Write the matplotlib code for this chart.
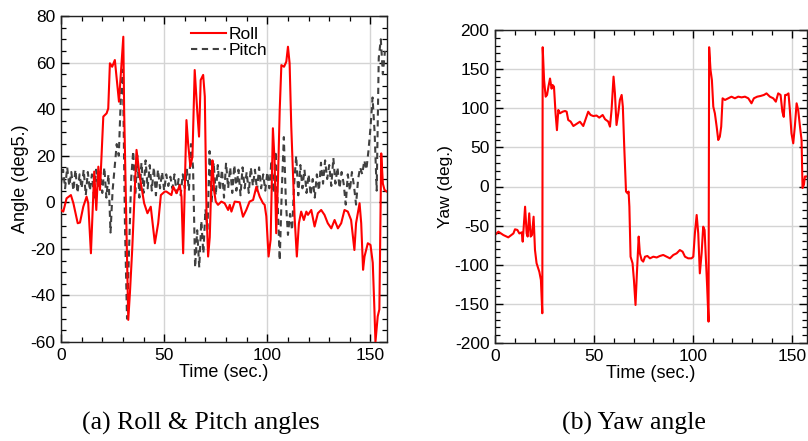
import matplotlib
matplotlib.use("Agg")
import matplotlib.pyplot as plt
from matplotlib.ticker import MultipleLocator

plt.rcParams['font.family'] = ['Liberation Sans', 'DejaVu Sans']
plt.rcParams['axes.unicode_minus'] = False

# roll angle (deg)
roll_t = [0, 1.1, 2.7, 4.8, 6.0, 8.1, 9.2, 10.8, 12.4, 13.2, 14.5, 16.1, 17.1, 18.1, 18.9,
          20.5, 22.1, 22.9, 23.7, 24.8, 26.1, 26.9, 28.1, 28.9, 30.2, 30.6, 32.6, 33.4, 34.5,
          35.5, 36.6, 38.2, 40.3, 41.9, 43.5, 45.5, 47.1, 48.4, 50.3, 51.1, 53.5, 54.4, 56.0,
          57.6, 58.4, 59.2, 60.8, 61.6, 62.7, 63.7, 64.8, 66.0, 66.9, 67.7, 68.9, 69.7, 70.5,
          71.3, 72.1, 72.9, 73.4, 74.2, 75.0, 76.1, 77.7, 79.3, 81.0, 81.8, 82.6, 84.2, 86.6,
          88.2, 89.8, 91.4, 93.1, 94.7, 96.3, 97.9, 98.7, 99.5, 100.6, 101.6, 102.7, 103.5,
          104.3, 105.2, 106.0, 106.8, 108.1, 109.2, 110.0, 110.8, 111.6, 113.2, 114.3, 115.3,
          116.4, 117.7, 118.9, 119.7, 121.3, 122.9, 124.5, 126.1, 127.7, 129.3, 131.0, 132.6,
          134.2, 135.8, 137.4, 139.0, 140.6, 142.2, 143.0, 144.7, 145.5, 146.4, 147.1, 148.7,
          150.0, 151.1, 151.9, 152.4, 153.5, 154.3, 155.2, 156.0, 156.8, 157.9]
roll_v = [-3.3, -4, 1.7, 3.1, -0.4, -9, -8.7, -1.9, 2.4, -0.4, -21.9, 13.2, -3.3, 15.3, 5.3,
          36.8, 38.2, 40.3, 59.7, 58.2, 61.1, 54, 43.2, 54, 71.1, 39.6, -50.5, -39, -20.5,
          -0.4, 22.5, 11, -0.4, -4.7, -1.9, -17.6, -9, 3.1, 4.6, 4.6, 3.1, 6.7, 3.9,
          7.4, 2.4, -21.9, 35.3, 25.3, 15.3, 19.6, 56.8, 39.6, 28.2, 52.5, 54.7, 45.4, -3.3,
          -23.3, -15, 10, 18, 5, 0.3, -1.1, 0.3, -0.4, -3.3, -1.1, -4, 0.3, 0,
          -6.2, -3.3, 0.3, 1, 6.7, 2.4, -0.4, -1.1, -6, -23.3, -16, 31.8, 18.2,
          -13.3, 11, 39.6, 58.9, 58.2, 60.4, 66.8, 59.7, 32.5, -6.2, -23.3, -9,
          -4, -7.6, -4, -5.4, -3.3, -10.4, -4.7, -3.3, -5.4, -9, -11.2, -7.6,
          -11.2, -9, -3.3, -4, -7.6, -20.5, -9, -0.4, -9, -29, -23.3, -17.6,
          -18.3, -26, -46, -60, -49, -46, 21, 8, 5.3, 4.6]

# pitch angle (deg), one reading per second
pitch_t = list(range(0, 158))
pitch_v = [8, 14, 6, 15, 7, 13, 5, 14, 4, 12, 6, 14, 3, 13, 5, 12, 2, 14, 6, 13,
           4, 15, 2, 12, -13, 5, 15, 25, 20, 45, 57, -10, -50, -20, 10, 22, 3, 20, 2, 17,
           4, 18, 6, 16, 5, 15, 3, 14, 6, 13, 5, 12, 7, 11, 6, 12, 4, 10, 3, 12,
           6, 14, 5, 25, 15, -28, -12, -28, -8, -22, -3, -12, 22, 0, 17, 3, 16, 5, 14, 2,
           17, 6, 15, 4, 16, 5, 14, 3, 15, 6, 13, 4, 15, 7, 14, 5, 15, 6, 12, 5,
           13, 6, 18, 4, 22, 0, -25, 5, 28, 0, -14, -5, -12, 8, 20, 3, 16, 6, 14, 4,
           12, 3, 10, 2, 12, 5, 17, 8, 18, 10, 16, 7, 19, 8, 15, 6, 13, 8, -1, 12,
           5, 13, 7, -1, 10, 15, 12, 18, 14, 22, 32, 45, 30, 5, 62, 70, 55, 65]

# yaw angle (deg)
yaw_t = [0, 1.7, 4.2, 6.7, 9.3, 10.1, 11.3, 12.3, 13.5, 14.0, 15.2, 16.0, 16.5, 17.3, 18.0,
         18.7, 19.5, 20.2, 21.0, 22.4, 23.2, 23.9, 24.1, 24.8, 25.6, 26.3, 27.0, 27.8, 28.6,
         29.1, 29.8, 30.6, 31.3, 32.0, 32.8, 34.2, 35.4, 36.2, 37.0, 38.2, 39.6, 41.6, 42.9,
         44.6, 45.9, 47.1, 48.3, 49.7, 51.3, 52.7, 54.4, 55.6, 57.2, 58.1, 58.9, 59.9, 60.6,
         61.4, 62.3, 63.1, 64.0, 64.6, 65.3, 66.2, 67.0, 67.5, 67.9, 68.5, 69.5, 70.2, 71.0,
         71.7, 72.6, 73.2, 74.1, 74.9, 75.8, 77.0, 78.3, 80.0, 81.7, 83.3, 85.0, 86.7, 88.4,
         90.1, 91.8, 93.4, 94.8, 96.0, 97.6, 99.3, 100.2, 101.0, 101.9, 102.7, 103.5, 104.4,
         105.2, 105.9, 106.6, 107.2, 107.9, 108.2, 108.9, 109.6, 110.3, 111.1, 112.0, 112.8,
         113.6, 114.3, 115.0, 116.2, 117.8, 119.5, 121.2, 122.9, 124.6, 126.3, 128.0, 129.6,
         130.8, 132.5, 134.2, 135.9, 137.2, 138.9, 140.6, 141.9, 143.1, 144.3, 145.2, 145.9,
         146.6, 147.3, 148.3, 149.0, 149.8, 150.7, 151.5, 152.4, 153.2, 154.1, 154.9, 155.4,
         156.1, 156.6, 157.7]
yaw_v = [-62, -57.7, -62, -65, -60, -54.7, -55.5, -60, -58.6, -70.5, -25.8, -60, -64, -34.3, -64,
         -62, -38.6, -81, -98, -109, -119.5, -162, 178, 136, 114.8, 117, 127.6, 138, 125,
         129.7, 127.6, 93.5, 72, 97.8, 93.5, 95.6, 96.5, 95.6, 85, 83, 77.3, 80.6, 82.8,
         77.3, 87, 95.6, 91.4, 90, 90.7, 88, 91.4, 86, 83, 76.5, 98, 140.4, 119,
         78.6, 93.5, 110.6, 117, 102, 51, -6.4, -8.7, -6.4, -25.8, -89.7, -98, -119.5, -151.4,
         -111, -64, -85.4, -94, -96, -89.7, -88.8, -91.8, -89.7, -90.7, -88.8, -87.5, -89.7, -91.8,
         -87.5, -85.4, -81.2, -83.3, -89.7, -91.8, -91.8, -89.7, -60, -36.4, -60, -111, -85.4,
         -51.3, -55.5, -93.9, -128, -172.7, 178, 149, 136, 102, 93.5, 76.5, 59.4,
         63.6, 76.5, 112.7, 110.6, 112.7, 114.8, 112.7, 114.8, 113.9, 114.8, 112.7, 106.3,
         112.7, 114.8, 115.7, 117, 119, 114.8, 112.7, 108.4, 119, 117, 95.6, 89,
         117, 117, 119, 97.8, 68, 55.2, 76.5, 106.3, 97.8, 76.5, 59.4, -2,
         2.3, 12.8, 12.8]

xticks = [0, 50, 100, 150]
angle_ticks = [-60, -40, -20, 0, 20, 40, 60, 80]
yaw_ticks = [-200, -150, -100, -50, 0, 50, 100, 150, 200]

FS = 12.5

fig = plt.figure(figsize=(8.08, 4.41), dpi=100)
W, H = 808.0, 441.0
ax1 = fig.add_axes([61 / W, 1 - 342 / H, (387 - 61) / W, (342 - 16) / H])
ax2 = fig.add_axes([495 / W, 1 - 343 / H, (806.7 - 495) / W, (343 - 30) / H])


def style_axes(ax, xminor, yminor):
    ax.grid(True, color='#d4d4d4', linewidth=1.0)
    ax.set_axisbelow(True)
    ax.xaxis.set_minor_locator(MultipleLocator(xminor))
    ax.yaxis.set_minor_locator(MultipleLocator(yminor))
    ax.tick_params(which='both', direction='in', top=True, right=True,
                   labelsize=FS, colors='black', pad=4)
    ax.tick_params(which='major', length=6, width=1)
    ax.tick_params(which='minor', length=3.5, width=0.9)
    for s in ax.spines.values():
        s.set_linewidth(1.0)
        s.set_color('#222222')


ax1.plot(roll_t, roll_v, color='#ff0000', linewidth=1.5, label='Roll', zorder=3)
ax1.plot(pitch_t, pitch_v, color='#404040', linewidth=1.5, dashes=(3, 2.2),
         label='Pitch', zorder=2)
ax1.set_xlim(0, 158)
ax1.set_ylim(-60, 80)
ax1.set_xticks(xticks)
ax1.set_yticks(angle_ticks)
style_axes(ax1, 10, 5)
ax1.set_xlabel('Time (sec.)', fontsize=FS + 0.5, labelpad=1)
ax1.set_ylabel('Angle (deg5.)', fontsize=FS + 0.5, labelpad=1)
ax1.legend(loc='upper center', bbox_to_anchor=(0.515, 1.0), frameon=False,
           fontsize=FS, handlelength=2.0, handletextpad=0.15, labelspacing=0.05,
           borderaxespad=0.25)

ax2.plot(yaw_t, yaw_v, color='#ff0000', linewidth=1.5)
ax2.set_xlim(0, 157.5)
ax2.set_ylim(-200, 200)
ax2.set_xticks(xticks)
ax2.set_yticks(yaw_ticks)
style_axes(ax2, 10, 10)
ax2.set_xlabel('Time (sec.)', fontsize=FS + 0.5, labelpad=1)
ax2.set_ylabel('Yaw (deg.)', fontsize=FS, labelpad=1)

fig.text(201 / W, 1 - 423 / H, '(a) Roll & Pitch angles', ha='center', va='center',
         fontsize=18.5, family='Liberation Serif')
fig.text(634 / W, 1 - 423 / H, '(b) Yaw angle', ha='center', va='center',
         fontsize=18.5, family='Liberation Serif')

fig.savefig('out.png', dpi=100)
